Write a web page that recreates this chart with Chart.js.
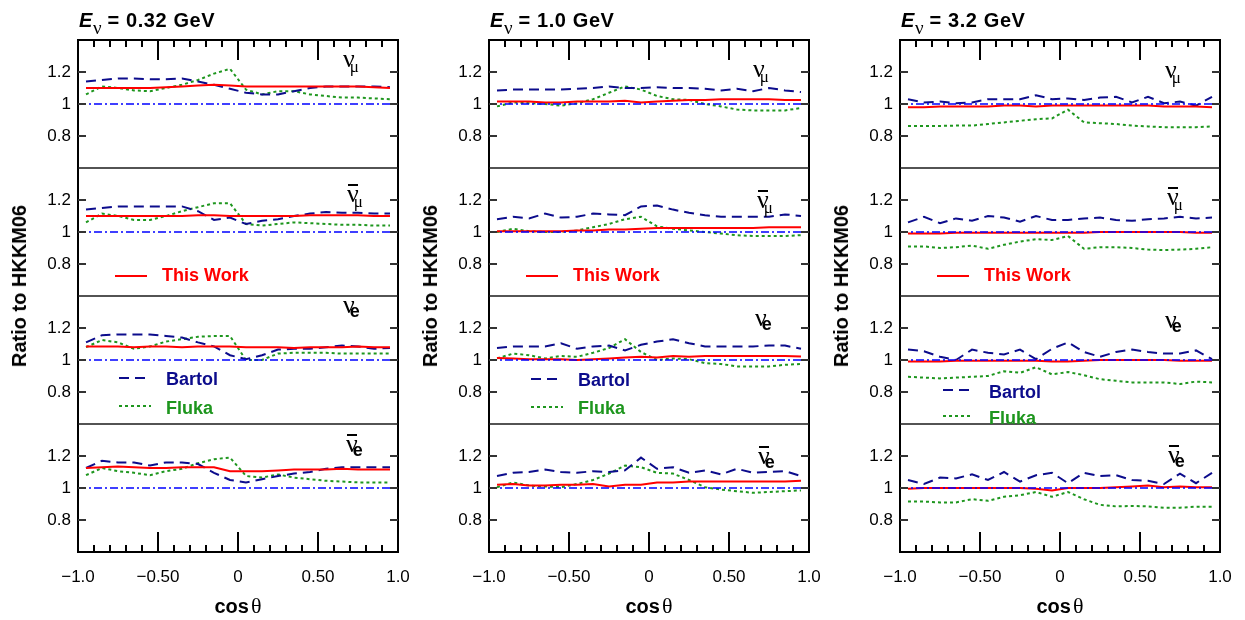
<!DOCTYPE html>
<html><head><meta charset="utf-8">
<script src="https://cdn.jsdelivr.net/npm/chart.js@4.4.1/dist/chart.umd.min.js"></script>
<style>
html,body{margin:0;padding:0;background:#fff;}
body{width:1245px;height:620px;position:relative;overflow:hidden;font-family:'Liberation Sans',Arial,sans-serif;color:#000;}
.wrap{position:absolute;}
.tk{position:absolute;background:#000;}
.tky{position:absolute;background:#333;}
.t{position:absolute;white-space:nowrap;line-height:1;}
.title{font-weight:bold;font-size:20px;letter-spacing:0.6px;}
.title .sb{font-family:'Liberation Serif',serif;font-weight:normal;font-size:19px;position:relative;top:7px;letter-spacing:0;margin-right:6px;}
.ytitle{font-weight:bold;font-size:20px;transform:translate(-50%,-50%) rotate(-90deg);}
.xtitle{font-weight:bold;font-size:20px;transform:translate(-50%,-50%);}
.xtitle .th{font-family:'Liberation Serif',serif;font-weight:normal;font-size:22px;margin-left:2px;}
.flav{font-family:'Liberation Serif',serif;font-size:26px;line-height:26px;}
.flav .bar{position:relative;}
.flav .bar::before{content:'';position:absolute;left:1px;right:1px;top:5px;border-top:2px solid #000;}
.flav .sm{font-size:17px;position:relative;top:5px;margin-left:-5px;}
.flav .se{font-family:'Liberation Sans',Arial,sans-serif;font-weight:bold;font-size:18px;position:relative;top:4px;margin-left:-5px;}
.leg{font-weight:bold;font-size:18px;line-height:18px;}
</style></head><body>
<script>
// ---------- data ----------
const cosTheta = [-0.95,-0.85,-0.75,-0.65,-0.55,-0.45,-0.35,-0.25,-0.15,-0.05,0.05,0.15,0.25,0.35,0.45,0.55,0.65,0.75,0.85,0.95];
const xTickValues = [-1, -0.5, 0, 0.5, 1];
const xTickLabels = ['\u22121.0', '\u22120.50', '0', '0.50', '1.0'];
const xMajorTicks = [-0.5, 0, 0.5];
const xMinorTicks = [-0.9,-0.8,-0.7,-0.6,-0.4,-0.3,-0.2,-0.1,0.1,0.2,0.3,0.4,0.6,0.7,0.8,0.9];
const yTickValues = [0.8, 1, 1.2];
const yTickLabels = ['0.8', '1', '1.2'];
const refX = [-1, 1];
const refY = [1, 1];
const energies = ['0.32', '1.0', '3.2'];
const seriesNames = ['This Work', 'Bartol', 'Fluka'];

// E = 0.32 GeV
const tw_032_numu     = [1.10,1.10,1.10,1.10,1.10,1.105,1.11,1.115,1.12,1.115,1.11,1.11,1.11,1.11,1.11,1.11,1.11,1.11,1.105,1.10];
const bartol_032_numu = [1.14,1.15,1.16,1.16,1.155,1.155,1.16,1.14,1.12,1.095,1.07,1.06,1.06,1.08,1.10,1.11,1.11,1.11,1.11,1.105];
const fluka_032_numu  = [1.06,1.11,1.10,1.085,1.08,1.10,1.12,1.15,1.19,1.22,1.09,1.06,1.08,1.08,1.06,1.05,1.04,1.04,1.035,1.03];
const tw_032_numubar     = [1.10,1.10,1.10,1.10,1.10,1.10,1.10,1.105,1.105,1.10,1.10,1.10,1.10,1.10,1.105,1.105,1.105,1.105,1.10,1.10];
const bartol_032_numubar = [1.14,1.15,1.16,1.16,1.16,1.16,1.16,1.13,1.075,1.09,1.05,1.07,1.08,1.10,1.115,1.125,1.12,1.12,1.115,1.115];
const fluka_032_numubar  = [1.06,1.115,1.10,1.075,1.075,1.10,1.13,1.155,1.18,1.18,1.05,1.04,1.05,1.06,1.055,1.05,1.045,1.045,1.04,1.04];
const tw_032_nue     = [1.085,1.085,1.085,1.08,1.085,1.085,1.08,1.085,1.085,1.085,1.08,1.08,1.08,1.075,1.08,1.08,1.08,1.085,1.08,1.08];
const bartol_032_nue = [1.11,1.155,1.16,1.16,1.16,1.15,1.14,1.11,1.085,1.03,1.005,1.03,1.065,1.07,1.07,1.08,1.09,1.085,1.07,1.075];
const fluka_032_nue  = [1.08,1.125,1.11,1.07,1.085,1.115,1.13,1.145,1.15,1.15,1.0,1.0,1.04,1.045,1.045,1.045,1.04,1.04,1.04,1.04];
const tw_032_nuebar     = [1.125,1.13,1.135,1.13,1.125,1.125,1.13,1.13,1.13,1.105,1.105,1.105,1.11,1.115,1.115,1.115,1.12,1.115,1.115,1.115];
const bartol_032_nuebar = [1.125,1.17,1.16,1.16,1.14,1.16,1.16,1.15,1.095,1.05,1.035,1.055,1.075,1.09,1.10,1.12,1.13,1.13,1.13,1.13];
const fluka_032_nuebar  = [1.08,1.125,1.105,1.095,1.08,1.105,1.12,1.155,1.18,1.19,1.075,1.065,1.085,1.065,1.055,1.045,1.04,1.035,1.035,1.035];

// E = 1.0 GeV
const tw_10_numu     = [1.015,1.015,1.015,1.01,1.01,1.015,1.015,1.015,1.02,1.01,1.015,1.02,1.025,1.025,1.03,1.03,1.03,1.03,1.025,1.025];
const bartol_10_numu = [1.085,1.09,1.09,1.09,1.09,1.095,1.10,1.11,1.10,1.10,1.105,1.10,1.10,1.095,1.085,1.095,1.08,1.10,1.085,1.075];
const fluka_10_numu  = [0.985,1.01,1.005,1.0,0.99,1.005,1.03,1.07,1.11,1.09,1.05,1.03,1.025,1.0,0.985,0.965,0.96,0.96,0.96,0.975];
const tw_10_numubar     = [1.005,1.005,1.005,1.005,1.005,1.01,1.01,1.015,1.015,1.02,1.025,1.025,1.025,1.025,1.025,1.025,1.025,1.03,1.03,1.03];
const bartol_10_numubar = [1.08,1.095,1.085,1.115,1.09,1.095,1.115,1.11,1.105,1.16,1.165,1.14,1.12,1.105,1.095,1.095,1.095,1.095,1.11,1.10];
const fluka_10_numubar  = [1.0,1.02,1.005,1.0,1.0,1.01,1.03,1.05,1.08,1.095,1.035,1.02,1.01,1.0,0.99,0.98,0.975,0.975,0.975,0.98];
const tw_10_nue     = [1.012,1.01,1.005,1.005,1.005,1.0,1.005,1.01,1.015,1.02,1.015,1.025,1.02,1.025,1.025,1.025,1.025,1.025,1.025,1.022];
const bartol_10_nue = [1.075,1.085,1.085,1.085,1.105,1.07,1.085,1.09,1.06,1.095,1.115,1.13,1.105,1.085,1.085,1.085,1.085,1.09,1.09,1.07];
const fluka_10_nue  = [1.01,1.04,1.03,1.01,1.025,1.02,1.045,1.075,1.13,1.05,1.0,1.01,1.005,0.98,0.975,0.96,0.96,0.96,0.97,0.975];
const tw_10_nuebar     = [1.02,1.025,1.015,1.015,1.02,1.02,1.025,1.01,1.02,1.02,1.035,1.035,1.04,1.04,1.04,1.04,1.04,1.04,1.04,1.045];
const bartol_10_nuebar = [1.075,1.095,1.10,1.115,1.10,1.095,1.105,1.10,1.11,1.19,1.12,1.13,1.095,1.11,1.085,1.12,1.095,1.10,1.105,1.075];
const fluka_10_nuebar  = [1.005,1.035,1.015,1.01,1.005,1.025,1.05,1.09,1.14,1.13,1.095,1.09,1.05,1.005,0.99,0.98,0.97,0.975,0.98,0.985];

// E = 3.2 GeV
const tw_32_numu     = [0.98,0.98,0.985,0.985,0.985,0.985,0.99,0.99,0.985,0.99,0.99,0.99,0.99,0.99,0.99,0.99,0.985,0.985,0.985,0.98];
const bartol_32_numu = [1.03,1.01,1.015,1.005,1.01,1.03,1.03,1.03,1.055,1.03,1.035,1.025,1.04,1.045,1.01,1.045,1.005,1.015,0.99,1.045];
const fluka_32_numu  = [0.863,0.863,0.863,0.865,0.865,0.875,0.885,0.895,0.905,0.91,0.965,0.885,0.88,0.875,0.865,0.86,0.855,0.855,0.855,0.86];
const tw_32_numubar     = [0.99,0.99,0.99,0.995,0.995,0.995,0.995,0.995,0.995,0.995,0.995,0.995,1.0,1.0,1.0,1.0,1.0,1.0,0.995,0.995];
const bartol_32_numubar = [1.06,1.095,1.055,1.085,1.07,1.10,1.09,1.065,1.10,1.075,1.075,1.085,1.09,1.075,1.07,1.08,1.085,1.095,1.085,1.09];
const fluka_32_numubar  = [0.91,0.91,0.90,0.905,0.915,0.895,0.92,0.94,0.955,0.95,0.975,0.895,0.905,0.905,0.90,0.89,0.887,0.89,0.895,0.905];
const tw_32_nue     = [0.99,0.99,0.99,0.995,0.995,0.995,0.995,0.995,0.995,0.99,0.99,0.995,1.0,1.0,1.0,1.0,1.0,0.995,0.995,0.995];
const bartol_32_nue = [1.065,1.055,1.02,1.0,1.065,1.045,1.035,1.065,1.005,1.07,1.11,1.05,1.02,1.05,1.065,1.05,1.04,1.04,1.06,1.005];
const fluka_32_nue  = [0.895,0.89,0.885,0.89,0.895,0.9,0.93,0.92,0.955,0.91,0.925,0.905,0.88,0.87,0.86,0.86,0.86,0.85,0.865,0.86];
const tw_32_nuebar     = [0.995,1.0,1.0,1.0,1.0,1.0,1.0,1.0,0.995,0.985,1.0,1.0,1.0,1.005,1.01,1.015,1.005,1.01,1.005,1.005];
const bartol_32_nuebar = [1.05,1.025,1.065,1.06,1.085,1.05,1.10,1.04,1.08,1.095,1.03,1.095,1.075,1.08,1.05,1.045,1.025,1.09,1.03,1.095];
const fluka_32_nuebar  = [0.915,0.915,0.91,0.91,0.93,0.92,0.945,0.955,0.975,0.945,0.975,0.93,0.895,0.885,0.888,0.885,0.877,0.877,0.883,0.883];

// table [column][row] -> [thisWork, bartol, fluka]
const panelData = [
  [[tw_032_numu, bartol_032_numu, fluka_032_numu], [tw_032_numubar, bartol_032_numubar, fluka_032_numubar],
   [tw_032_nue, bartol_032_nue, fluka_032_nue], [tw_032_nuebar, bartol_032_nuebar, fluka_032_nuebar]],
  [[tw_10_numu, bartol_10_numu, fluka_10_numu], [tw_10_numubar, bartol_10_numubar, fluka_10_numubar],
   [tw_10_nue, bartol_10_nue, fluka_10_nue], [tw_10_nuebar, bartol_10_nuebar, fluka_10_nuebar]],
  [[tw_32_numu, bartol_32_numu, fluka_32_numu], [tw_32_numubar, bartol_32_numubar, fluka_32_numubar],
   [tw_32_nue, bartol_32_nue, fluka_32_nue], [tw_32_nuebar, bartol_32_nuebar, fluka_32_nuebar]]
];

// ---------- layout & style ----------
const COL_LEFT = [78, 489, 900];
const ROW_TOP = [40, 168, 296, 424];
const PW = 320, PH = 128;
const ML = 60, MR = 26, MT = 4, MB = 4, XH = 50;
const RED = '#ff0000', NAVY = '#0c0c8c', GREEN = '#1e961e', BLUE = '#0000ff';
const styles = [
  {color: RED, dash: [], width: 2},
  {color: NAVY, dash: [10, 6], width: 2},
  {color: GREEN, dash: [3, 3], width: 2}
];
const FLAV_HTML = [
  '<span>\u03bd</span><span class="sm">\u03bc</span>',
  '<span class="bar">\u03bd</span><span class="sm">\u03bc</span>',
  '<span>\u03bd</span><span class="se">e</span>',
  '<span class="bar">\u03bd</span><span class="se">e</span>'
];
const FLAV_POS = [ // [col][row] : left x, top of glyph
  [[343,57],[347,192],[343,303],[346,442]],
  [[753,67],[757,198],[755,316],[758,454]],
  [[1165,68],[1167,195],[1165,318],[1168,453]]
];
const LEGEND_POS = [
  {tw:[115,147,276,162,274], b:[119,151,378,166,378], f:[119,151,406,166,407]},
  {tw:[526,558,276,573,274], b:[531,563,379,578,379], f:[531,563,407,578,407]},
  {tw:[937,969,276,984,274], b:[943,973,390,989,391], f:[943,973,416,989,417]}
];

function addText(html, cls, left, top) {
  const d = document.createElement('div');
  d.className = 't ' + cls;
  d.style.left = left + 'px';
  d.style.top = top + 'px';
  d.innerHTML = html;
  document.body.appendChild(d);
  return d;
}
function addBox(cls, left, top, w, h) {
  const d = document.createElement('div');
  d.className = cls;
  d.style.left = left + 'px'; d.style.top = top + 'px';
  d.style.width = w + 'px'; d.style.height = h + 'px';
  document.body.appendChild(d);
}
function strokeLine(ctx, x1, y1, x2, y2) {
  ctx.beginPath(); ctx.moveTo(x1, y1); ctx.lineTo(x2, y2); ctx.stroke();
}

const panelPlugin = {
  id: 'panelFrame',
  beforeDraw(chart) {
    chart.ctx.letterSpacing = '0px';
  },
  afterDatasetsDraw(chart) {
    chart.ctx.letterSpacing = '1.5px';
  },
  afterDraw(chart) {
    const ctx = chart.ctx;
    ctx.letterSpacing = '0px';
    const ca = chart.chartArea;
    const left = ca.left, right = ca.right, top = ca.top, bottom = ca.bottom;
    const row = chart.options.plugins.panelFrame.row;
    ctx.save();
    ctx.setLineDash([]);
    ctx.strokeStyle = '#000';
    ctx.lineWidth = 2;
    strokeLine(ctx, left, top - (row === 0 ? 1 : 0), left, bottom + 1);
    strokeLine(ctx, right, top - (row === 0 ? 1 : 0), right, bottom + 1);
    if (row === 0) strokeLine(ctx, left - 1, top, right + 1, top);
    else { ctx.lineWidth = 1.5; ctx.strokeStyle = '#1a1a1a'; strokeLine(ctx, left, top, right, top); }
    if (row === 3) { ctx.lineWidth = 2; ctx.strokeStyle = '#000'; strokeLine(ctx, left - 1, bottom, right + 1, bottom); }
    const samples = chart.options.plugins.panelFrame.samples || [];
    for (const s of samples) {
      ctx.strokeStyle = s.color; ctx.lineWidth = s.width; ctx.setLineDash(Array.from(s.dash));
      strokeLine(ctx, s.x1, s.y, s.x2, s.y);
    }
    ctx.setLineDash([]);
    ctx.restore();
  }
};

function makePanel(c, r) {
  const bottomRow = r === 3;
  const w = ML + PW + MR;
  const h = MT + PH + (bottomRow ? XH : MB);
  const offX = COL_LEFT[c] - ML, offY = ROW_TOP[r] - MT;
  const wrap = document.createElement('div');
  wrap.className = 'wrap';
  wrap.style.left = offX + 'px'; wrap.style.top = offY + 'px';
  wrap.style.width = w + 'px'; wrap.style.height = h + 'px';
  const cv = document.createElement('canvas');
  cv.width = w; cv.height = h;
  cv.style.width = w + 'px'; cv.style.height = h + 'px';
  wrap.appendChild(cv);
  document.body.appendChild(wrap);

  const vals = panelData[c][r];
  const datasets = [{
    label: 'HKKM06', data: refX.map((x, i) => ({x: x, y: refY[i]})),
    borderColor: BLUE, borderWidth: 1.5, borderDash: [8, 3, 2, 3], pointRadius: 0, order: 0
  }];
  vals.forEach((arr, k) => {
    datasets.push({
      label: seriesNames[k], data: cosTheta.map((x, i) => ({x: x, y: arr[i]})),
      borderColor: styles[k].color, borderWidth: styles[k].width, borderDash: styles[k].dash,
      pointRadius: 0, tension: 0, order: k + 1
    });
  });

  const samples = [];
  const lp = LEGEND_POS[c];
  if (r === 1) samples.push({x1: lp.tw[0] - offX, x2: lp.tw[1] - offX, y: lp.tw[2] - offY, color: styles[0].color, width: styles[0].width, dash: styles[0].dash});
  if (r === 2) {
    samples.push({x1: lp.b[0] - offX, x2: lp.b[1] - offX, y: lp.b[2] - offY, color: styles[1].color, width: styles[1].width, dash: styles[1].dash});
    samples.push({x1: lp.f[0] - offX, x2: lp.f[1] - offX, y: lp.f[2] - offY, color: styles[2].color, width: styles[2].width, dash: styles[2].dash});
  }

  const chart = new Chart(cv, {
    type: 'line',
    data: {datasets},
    options: {
      responsive: false, animation: false, devicePixelRatio: 1,
      layout: {padding: {left: 0, right: MR, top: MT, bottom: bottomRow ? 0 : MB}},
      plugins: {legend: {display: false}, tooltip: {enabled: false}, panelFrame: {row: r, samples}},
      scales: {
        x: {
          type: 'linear', min: -1, max: 1, display: bottomRow, position: 'bottom', z: 1,
          afterBuildTicks: s => { s.ticks = xTickValues.map(v => ({value: v})); },
          afterFit: s => { s.height = bottomRow ? XH : 0; s.paddingLeft = 0; s.paddingRight = 0; },
          grid: {display: false, drawTicks: false}, border: {display: false},
          ticks: {autoSkip: false, maxRotation: 0, minRotation: 0, padding: 15, color: '#000',
                  font: {family: "'Liberation Sans', Arial, sans-serif", size: 17},
                  callback: (v, i) => xTickLabels[i]}
        },
        y: {
          type: 'linear', min: 0.6, max: 1.4,
          afterBuildTicks: s => { s.ticks = yTickValues.map(v => ({value: v})); },
          afterFit: s => { s.width = ML; s.paddingTop = 0; s.paddingBottom = 0; },
          grid: {display: false, drawTicks: false}, border: {display: false},
          ticks: {padding: 7, color: '#000', font: {family: "'Liberation Sans', Arial, sans-serif", size: 17},
                  callback: (v, i) => yTickLabels[i]}
        }
      }
    },
    plugins: [panelPlugin]
  });

  // inner tick marks, positioned from the chart's own scales
  const ca = chart.chartArea, xs = chart.scales.x, ys = chart.scales.y;
  for (const v of yTickValues) {
    const py = offY + Math.round(ys.getPixelForValue(v));
    addBox('tky', offX + ca.left, py - 1, 8, 2);
    addBox('tky', offX + ca.right - 8, py - 1, 8, 2);
  }
  if (r === 0 || r === 3) {
    const edgeTop = offY + ca.top, edgeBot = offY + ca.bottom;
    for (const v of xMajorTicks) {
      const px = offX + Math.round(xs.getPixelForValue(v));
      addBox('tk', px - 1, r === 0 ? edgeTop : edgeBot - 20, 2, 20);
    }
    for (const v of xMinorTicks) {
      const px = offX + Math.round(xs.getPixelForValue(v));
      addBox('tk', px - 1, r === 0 ? edgeTop : edgeBot - 7, 2, 7);
    }
  }
}

for (let c = 0; c < 3; c++) {
  for (let r = 0; r < 4; r++) makePanel(c, r);
  addText('<i>E</i><span class="sb">\u03bd</span>= ' + energies[c] + ' GeV', 'title', COL_LEFT[c] + 1, 10);
  addText('Ratio to HKKM06', 'ytitle', COL_LEFT[c] - 59, 286);
  addText('cos<span class="th">\u03b8</span>', 'xtitle', COL_LEFT[c] + PW / 2, 606);
  for (let r = 0; r < 4; r++) {
    const p = FLAV_POS[c][r];
    addText(FLAV_HTML[r], 'flav', p[0], p[1] - 11);
  }
  const lp = LEGEND_POS[c];
  addText('This Work', 'leg', lp.tw[3], lp.tw[4] - 8).style.color = RED;
  addText('Bartol', 'leg', lp.b[3], lp.b[4] - 8).style.color = NAVY;
  addText('Fluka', 'leg', lp.f[3], lp.f[4] - 8).style.color = GREEN;
}
</script>
</body></html>
